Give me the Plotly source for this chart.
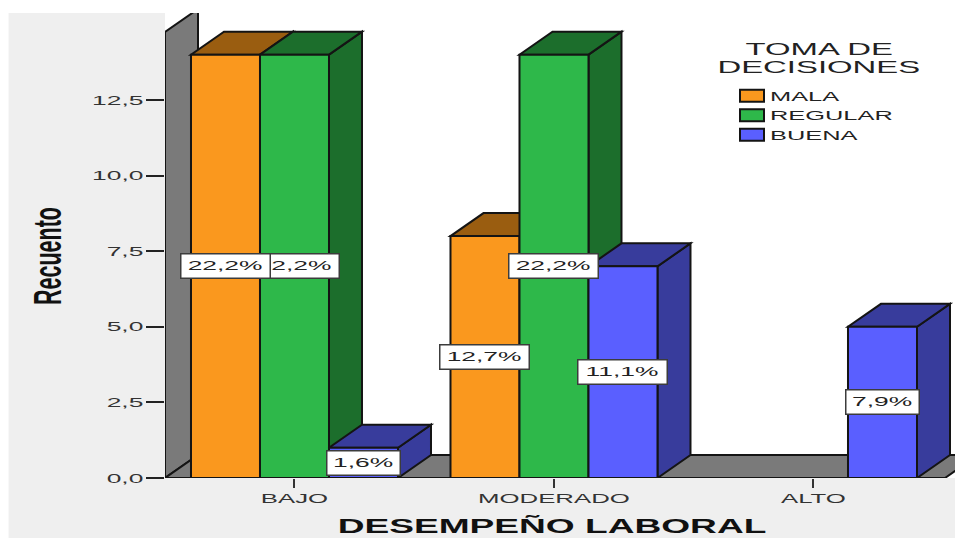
import plotly.graph_objects as go

# Counts per performance level, grouped by decision-making rating
categories = ["BAJO", "MODERADO", "ALTO"]
positions = [0, 1, 2]
mala = [14, 8, None]
regular = [14, 14, None]
buena = [1, 7, 5]
mala_pct = ["22,2%", "12,7%", None]
regular_pct = ["22,2%", "22,2%", None]
buena_pct = ["1,6%", "11,1%", "7,9%"]
series_names = ["MALA", "REGULAR", "BUENA"]
y_ticks = [0, 2.5, 5, 7.5, 10, 12.5]

series = [mala, regular, buena]
labels = [mala_pct, regular_pct, buena_pct]
front_colors = ["#FA981E", "#2EB84A", "#5A5FFF"]
dark_colors = ["#9A5D10", "#1C6E2C", "#383C9C"]

BAR_GAP = 0.2023
BAR_W = (1 - BAR_GAP) / 3
DEPTH_X = 33 / 259.5   # oblique depth in x-axis units
DEPTH_Y = 0.76         # oblique depth in y-axis units
Y_WALL = 14.75
X_LO, X_HI = -0.499, 2.5453
X_FLOOR_END = 2.5067
OUTLINE = "#141414"


def polygon(points, fill):
    path = "M" + " L".join(f"{x},{y}" for x, y in points) + " Z"
    return dict(type="path", path=path, xref="x", yref="y", layer="below",
                fillcolor=fill, line=dict(color=OUTLINE, width=2))


shapes = [
    # white margins around the grey page
    dict(type="rect", xref="paper", yref="paper", x0=-1, x1=2,
         y0=1, y1=1.1, fillcolor="white", line_width=0, layer="below"),
    dict(type="rect", xref="paper", yref="paper", x0=-0.3, x1=-0.198,
         y0=-0.2, y1=1.1, fillcolor="white", line_width=0, layer="below"),
    # back wall and floor of the 3D box
    polygon([(X_LO, 0), (X_LO, Y_WALL), (X_LO + DEPTH_X, Y_WALL + DEPTH_Y),
             (X_LO + DEPTH_X, DEPTH_Y)], "#7A7A7A"),
    polygon([(X_LO, 0), (X_LO + DEPTH_X, DEPTH_Y),
             (X_FLOOR_END + DEPTH_X, DEPTH_Y), (X_FLOOR_END, 0)], "#7A7A7A"),
]

# Side and top faces of every bar, painted left to right beneath the bar fronts
for pos in positions:
    for i, values in enumerate(series):
        v = values[pos]
        if v is None:
            continue
        x0 = pos + (i - 1.5) * BAR_W
        x1 = x0 + BAR_W
        shapes.append(polygon([(x1, 0), (x1 + DEPTH_X, DEPTH_Y),
                               (x1 + DEPTH_X, v + DEPTH_Y), (x1, v)], dark_colors[i]))
        shapes.append(polygon([(x0, v), (x1, v), (x1 + DEPTH_X, v + DEPTH_Y),
                               (x0 + DEPTH_X, v + DEPTH_Y)], dark_colors[i]))

fig = go.Figure()
for name, values, color in zip(series_names, series, front_colors):
    fig.add_bar(x=positions, y=values, name=name, marker_color=color,
                marker_line=dict(color=OUTLINE, width=2))

# Value boxes; earlier bars go on top, so they are added last
annotations = []
for i in reversed(range(3)):
    for pos in reversed(positions):
        if labels[i][pos] is None:
            continue
        text = labels[i][pos]
        annotations.append(dict(
            x=pos + (i - 1) * BAR_W, y=series[i][pos] / 2, xref="x", yref="y",
            text=text, showarrow=False, align="center",
            width=88 if len(text) == 5 else 72, height=23, borderpad=0,
            bgcolor="white", bordercolor="#3C3C3C", borderwidth=1.5,
            font=dict(family="Liberation Sans", size=13, color="#222222"),
        ))

legend_title_font = dict(family="Liberation Sans", size=16.2, color="#222222")
for line, ypos in [("TOMA DE", 49), ("DECISIONES", 67)]:
    annotations.append(dict(
        x=(819 - 165) / 790, y=(478 - ypos) / 465, xref="paper", yref="paper",
        text=line, showarrow=False, font=legend_title_font,
        xanchor="center", yanchor="middle",
    ))

fig.update_layout(
    width=955, height=538,
    margin=dict(l=165, r=0, t=13, b=60),
    paper_bgcolor="#EFEFEF", plot_bgcolor="white",
    barmode="group", bargap=BAR_GAP, bargroupgap=0,
    separators=",.", hovermode=False,
    font=dict(family="Liberation Sans", color="#333333"),
    shapes=shapes, annotations=annotations,
    legend=dict(x=(712 - 165) / 790, y=(478 - 81) / 465, xanchor="left", yanchor="top",
                bgcolor="rgba(0,0,0,0)", font=dict(family="Liberation Sans", size=12.7, color="#222222"),
                traceorder="normal"),
    xaxis=dict(range=[X_LO, X_HI], tickmode="array", tickvals=positions, ticktext=categories,
               ticks="outside", ticklen=9, tickwidth=1.5, tickcolor="#333333",
               tickfont=dict(size=12.7, color="#333333"),
               showgrid=False, zeroline=False, showline=False,
               title=dict(text="DESEMPEÑO LABORAL",
                          font=dict(size=20.5, color="#111111", weight="bold"))),
    yaxis=dict(range=[0, 465 / 30.24], tickmode="array", tickvals=y_ticks, tickformat=".1f",
               ticks="outside", ticklen=18, tickwidth=1.5, tickcolor="#222222",
               tickfont=dict(size=13, color="#333333"),
               showgrid=False, zeroline=False, showline=False,
               title=dict(text="Recuento",
                          font=dict(size=21.5, color="#111111", weight="bold"))),
)

# The chart's lettering is set extra wide: widen the SVG text after drawing
post_script = r"""
const gd = document.getElementById('{plot_id}');
const origin = gd.getBoundingClientRect();
const toDom = m => new DOMMatrix([m.a, m.b, m.c, m.d, m.e, m.f]);
function widen(el, sx, cx, cy) {
  const r = el.getBoundingClientRect();
  const anchor = getComputedStyle(el).textAnchor || el.getAttribute('text-anchor');
  let ax = (r.left + r.right) / 2;
  if (anchor === 'end' && !el.classList.contains('ytitle')) ax = r.right;
  if (anchor === 'start') ax = r.left;
  const dx = cx === undefined ? 0 : origin.left + cx - (r.left + r.right) / 2;
  const dy = cy === undefined ? 0 : origin.top + cy - (r.top + r.bottom) / 2;
  const T = new DOMMatrix().translate(ax + dx, dy).scale(sx, 1).translate(-ax, 0);
  const N = toDom(el.parentNode.getScreenCTM()).inverse().multiply(T)
      .multiply(toDom(el.getScreenCTM()));
  el.setAttribute('transform', `matrix(${N.a} ${N.b} ${N.c} ${N.d} ${N.e} ${N.f})`);
}
gd.querySelectorAll('.xtick text, .ytick text, .annotation-text').forEach(t => widen(t, 2.03));
const xt = gd.querySelector('.xtitle');
if (xt) widen(xt, 1.81, 552, 525.5);
const yt = gd.querySelector('.ytitle');
if (yt) widen(yt, 1.8, 48, 256);
const lg = gd.querySelector('g.legend');
if (lg) {
  lg.setAttribute('transform', lg.getAttribute('transform') + ' scale(2,1)');
  lg.querySelectorAll('.legendtext').forEach(t => t.setAttribute('transform', 'translate(-11,0)'));
  lg.querySelectorAll('.legendbar, .legendpoints path, .legendtoggle').forEach(
      p => p.style.setProperty('vector-effect', 'non-scaling-stroke'));
}
"""

fig.write_html("out.html", config={"displayModeBar": False}, post_script=post_script)
